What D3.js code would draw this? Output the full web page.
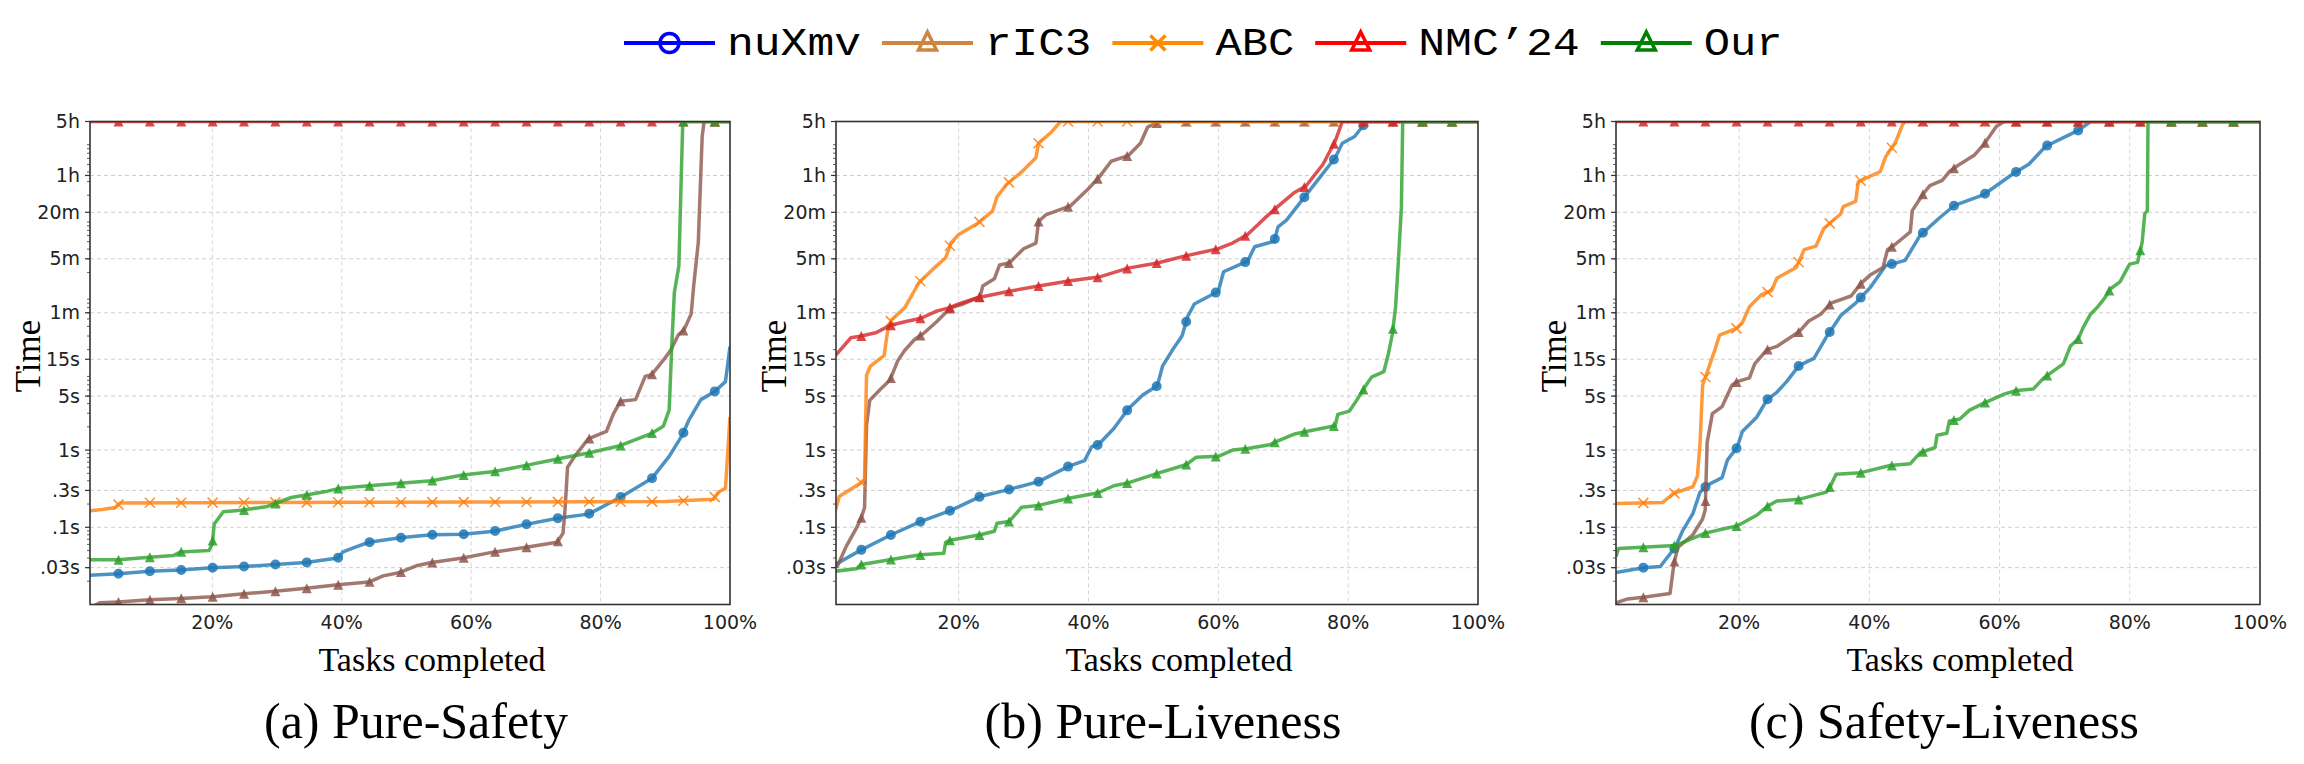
<!DOCTYPE html>
<html>
<head>
<meta charset="utf-8">
<script src="https://cdn.jsdelivr.net/npm/d3@7"></script>
<style>
  body { margin: 0; background: #fff; }
</style>
</head>
<body>
<svg id="chart" width="2304" height="764"></svg>
<script>
// ---- data: [percent of tasks completed, seconds] ----
var seriesNames = ["nuXmv", "rIC3", "ABC", "NMC\u201924", "Our"];
var pctTicks = [20, 40, 60, 80, 100];
var timeTicks = [18000, 3600, 1200, 300, 60, 15, 5, 1, 0.3, 0.1, 0.03];
var timeLabels = ["5h", "1h", "20m", "5m", "1m", "15s", "5s", "1s", ".3s", ".1s", ".03s"];
var captions = ["(a) Pure-Safety", "(b) Pure-Liveness", "(c) Safety-Liveness"];

// (a) Pure-Safety
var aNuxmv = [[1.1,0.024],[5.5,0.025],[10.3,0.027],[15.1,0.028],[20,0.030],[24.9,0.031],[29.7,0.033],[34.5,0.035],[39.4,0.040],[40.2,0.048],[42,0.055],[44.2,0.064],[49,0.073],[53.9,0.080],[58.7,0.081],[63.6,0.089],[68.5,0.109],[73.3,0.131],[78.1,0.148],[79.4,0.168],[83,0.243],[87.9,0.427],[90.6,0.83],[92.7,1.6],[93.6,2.4],[95.5,4.5],[97.6,5.7],[99.3,7.7],[100,22]];
var aRic3 = [[1.1,0.009],[2.6,0.0105],[5.5,0.0108],[10.3,0.0115],[15.1,0.012],[20,0.0126],[24.9,0.0138],[29.7,0.0148],[34.5,0.0162],[39.4,0.018],[44.2,0.0195],[46.4,0.0235],[49,0.026],[51.7,0.032],[53.9,0.035],[58.7,0.040],[63.6,0.048],[68.5,0.055],[73.3,0.064],[74.2,0.084],[74.5,0.168],[74.9,0.60],[76,0.83],[78.1,1.4],[80.9,1.74],[82,2.96],[83.1,4.3],[85.4,4.5],[86.9,9.0],[87.9,9.5],[89.7,14.6],[90.9,20],[92,31],[92.9,36],[94,58],[94.4,137],[95.1,490],[95.7,11500],[96,18000],[100,18000]];
var aAbc = [[1.1,0.164],[3,0.17],[5,0.18],[5.8,0.207],[30,0.21],[60,0.212],[90,0.215],[97.4,0.23],[98.2,0.285],[99.3,0.32],[100,2.7]];
var aNmc = [[1.1,18000],[100,18000]];
var aOur = [[1.1,0.038],[5.5,0.038],[10.3,0.041],[14,0.043],[15.1,0.048],[19.5,0.05],[20,0.061],[20.3,0.11],[21.7,0.159],[24.9,0.168],[28.5,0.186],[32.2,0.243],[34.5,0.262],[37.5,0.29],[39.4,0.317],[44.2,0.345],[49,0.372],[53.9,0.401],[58.7,0.475],[63.6,0.528],[68.5,0.633],[73.3,0.767],[78.1,0.918],[83,1.14],[87.9,1.65],[89.7,2.04],[90.6,3.3],[91,22],[91.4,110],[92.1,243],[92.7,18000],[100,18000]];

// (b) Pure-Liveness
var bNuxmv = [[1,0.033],[5,0.051],[9.6,0.080],[14.2,0.119],[18.7,0.164],[23.3,0.25],[27.8,0.31],[32.3,0.39],[37,0.62],[39.4,0.73],[40.5,1.11],[41.5,1.17],[43.9,1.9],[46.1,3.4],[48.4,5.2],[50.6,6.8],[51.4,12.2],[52.9,19.6],[54.4,30],[55.3,54],[56.3,78],[60,114],[60.8,204],[64.5,280],[65.6,430],[68.6,505],[69.2,780],[70.5,950],[73.5,2000],[75.4,3200],[78,6100],[79.1,9400],[81,11500],[82.8,18000],[100,18000]];
var bRic3 = [[1.2,0.03],[2.7,0.057],[4.2,0.096],[5,0.133],[5.5,0.18],[5.8,2.1],[6.3,4.4],[7.9,6.1],[9.4,8],[10.6,14.3],[11.7,19.6],[13.2,27],[14.7,33],[16.6,46],[18.8,70],[20.7,78],[23.3,97],[23.7,133],[25.5,165],[26.3,250],[27.8,265],[30,405],[31.9,480],[32.3,910],[33.4,1110],[37.2,1450],[40.1,2480],[41.6,3400],[43.5,5500],[46.1,6500],[48,9400],[49.1,15200],[51,18000],[100,18000]];
var bAbc = [[1,0.164],[1.6,0.25],[5,0.38],[5.5,0.42],[5.8,9.3],[6.4,12.2],[8.5,16.7],[9.1,37],[9.6,48],[11.7,70],[13.9,148],[16.2,227],[18,310],[18.8,480],[20,620],[22.9,860],[25.2,1240],[25.9,1900],[27.4,2770],[29.7,4000],[31.9,6100],[32.3,9400],[34.2,12900],[35.7,18000],[100,18000]];
var bNmc = [[1,16.7],[3.4,28.5],[5,30],[7.2,33],[9.4,41],[11.7,46],[14.2,51],[16.6,63],[18.6,70],[20,78],[22.9,94],[27.8,114],[32.3,133],[37.2,156],[41.6,174],[46.1,227],[50.6,265],[55.1,330],[60,405],[62.2,480],[64.5,620],[67.1,1000],[69,1390],[71.6,2130],[73.5,2630],[76.1,5000],[78,10000],[79.1,18000],[100,18000]];
var bOur = [[1,0.027],[4.2,0.029],[5,0.033],[11.7,0.041],[14.2,0.044],[17.7,0.046],[18,0.064],[18.7,0.068],[23.3,0.080],[25.5,0.089],[25.9,0.113],[27.8,0.119],[29.7,0.182],[32.3,0.192],[37,0.238],[41.5,0.28],[43.9,0.345],[46.1,0.376],[50.6,0.50],[55.1,0.65],[56.6,0.81],[60,0.83],[62.2,1.0],[64.5,1.05],[67.9,1.17],[69,1.3],[71.6,1.6],[73.5,1.74],[78,2.06],[78.4,2.9],[80.2,3.2],[81.3,4.4],[82.7,6.8],[83.6,8.8],[85.5,10.4],[86.2,17.7],[86.8,31.6],[87.3,71],[87.7,250],[88.2,1390],[88.4,18000],[100,18000]];

// (c) Safety-Liveness
var cNuxmv = [[1.1,0.026],[5.3,0.030],[7.9,0.031],[8.7,0.038],[10.2,0.055],[11.3,0.089],[12.9,0.15],[14,0.285],[15.1,0.35],[17.4,0.44],[18.2,0.74],[19.7,1.08],[20.5,1.74],[22.7,2.66],[24.3,4.5],[25.8,5.6],[27.3,7.7],[29.2,12.4],[31.5,15.4],[33.4,29],[35.6,55],[37.9,80],[40.2,129],[42.5,244],[45.5,286],[47.8,604],[50.8,1020],[53.1,1480],[57.6,2040],[62.2,3850],[64.5,5040],[67.1,8600],[72.1,13800],[74,18000],[100,18000]];
var cRic3 = [[1.1,0.0105],[2.9,0.0118],[5.3,0.0124],[9.4,0.0139],[10,0.034],[10.6,0.055],[12.9,0.08],[14.4,0.128],[14.8,0.168],[15.1,1.26],[15.9,2.96],[17.4,3.66],[18.9,6.9],[19.7,7.7],[21.6,8.6],[22.4,13.1],[24.3,20],[25.8,22],[29.2,34],[30.7,47],[32.6,58],[34.1,80],[37.2,99],[38.7,143],[40.2,187],[42.1,232],[42.8,394],[44,463],[46.3,670],[46.6,1260],[48.2,2040],[49.3,2660],[51.2,3120],[52.3,4050],[53.9,5040],[56.1,6560],[57.6,9100],[59.5,15500],[60.7,18000],[100,18000]];
var cAbc = [[1.1,0.203],[8.3,0.21],[9.8,0.27],[11.3,0.30],[12.9,0.335],[13.6,0.46],[14,1.2],[14.4,6.9],[16.3,20],[17,30.7],[19.7,38],[20.5,44.6],[21.6,72],[23.5,104],[25,116],[25.8,168],[28.8,232],[30,394],[31.8,437],[33,740],[35.6,1140],[36,1420],[37.9,1660],[38.3,2970],[41.7,4050],[42.5,6270],[44,9600],[45.1,16300],[45.5,18000],[100,18000]];
var cNmc = [[1.1,18000],[100,18000]];
var cOur = [[1.1,0.042],[1.5,0.053],[10.2,0.058],[14.8,0.084],[18.2,0.098],[19.7,0.104],[22.7,0.143],[24.3,0.186],[25.8,0.219],[29.2,0.23],[33.4,0.285],[34.1,0.35],[34.9,0.485],[38.7,0.51],[43.2,0.63],[46.3,0.667],[47.8,0.92],[50.1,1.08],[50.4,1.56],[51.9,1.65],[52.3,2.39],[53.9,2.52],[55.4,3.29],[57.6,4.06],[60.7,5.3],[62.6,5.9],[65.2,6.2],[66.8,8.6],[68.3,10.6],[69.8,13.1],[70.9,22.3],[72.1,27.6],[72.8,38],[74,58],[75.1,72],[76.2,94],[77,122],[78.5,151],[79.7,232],[80,256],[81.2,270],[81.9,490],[82.3,1140],[82.7,1260],[82.8,18000],[100,18000]];

// ---- styling ----
var lineColours = ["#1f77b4", "#8c564b", "#ff7f0e", "#d62728", "#2ca02c"];
var legendColours = ["#0000ff", "#cd853f", "#ff8c00", "#ff0000", "#008000"];
var markerKinds = ["circle", "triangle", "x", "triangle", "triangle"];

var plotTop = 121.5, plotBottom = 604.5;
var panels = [
    {left: 90,   right: 730,  markStart: 5.5, markStep: 4.85, lines: [aNuxmv, aRic3, aAbc, aNmc, aOur]},
    {left: 836,  right: 1478, markStart: 5.0, markStep: 4.55, lines: [bNuxmv, bRic3, bAbc, bNmc, bOur]},
    {left: 1616, right: 2260, markStart: 5.3, markStep: 4.77, lines: [cNuxmv, cRic3, cAbc, cNmc, cOur]}
];

var svg = d3.select("#chart");
svg.append("rect").attr("width", 2304).attr("height", 764).attr("fill", "#fff");

var y = d3.scaleLog().domain([0.01, 18000]).range([plotBottom, plotTop]);

function markerPath(kind, size) {
    if (kind === "circle") return d3.symbol(d3.symbolCircle, size * size * 0.785)();
    if (kind === "x") {
        var h = size / 2;
        return "M" + (-h) + "," + (-h) + "L" + h + "," + h + "M" + (-h) + "," + h + "L" + h + "," + (-h);
    }
    // upward triangle centred on its bounding box, like matplotlib '^'
    var w = size / 2;
    return "M0," + (-w) + "L" + w + "," + w + "L" + (-w) + "," + w + "Z";
}

panels.forEach(function(p, pi) {
    var x = d3.scaleLinear().domain([1.1, 100]).range([p.left, p.right]);
    var g = svg.append("g");

    var clipId = "clip" + pi;
    svg.append("clipPath").attr("id", clipId)
        .append("rect")
        .attr("x", p.left).attr("y", plotTop)
        .attr("width", p.right - p.left).attr("height", plotBottom - plotTop);

    // grid
    g.selectAll(".hgrid").data(timeTicks).enter().append("line")
        .attr("x1", p.left).attr("x2", p.right)
        .attr("y1", function(d) { return y(d); }).attr("y2", function(d) { return y(d); })
        .attr("stroke", "#cfcfcf").attr("stroke-width", 1).attr("stroke-dasharray", "4,3");
    g.selectAll(".vgrid").data(pctTicks.slice(0, 4)).enter().append("line")
        .attr("y1", plotTop).attr("y2", plotBottom)
        .attr("x1", function(d) { return x(d); }).attr("x2", function(d) { return x(d); })
        .attr("stroke", "#d6d6d6").attr("stroke-width", 1).attr("stroke-dasharray", "4,3");

    // series
    var lineGen = d3.line()
        .x(function(d) { return x(d[0]); })
        .y(function(d) { return y(d[1]); });

    var series = g.append("g").attr("clip-path", "url(#" + clipId + ")");
    p.lines.forEach(function(data, si) {
        series.append("path")
            .attr("d", lineGen(data))
            .attr("fill", "none")
            .attr("stroke", lineColours[si])
            .attr("stroke-opacity", 0.8)
            .attr("stroke-width", 3.5)
            .attr("stroke-linejoin", "round");

        // markers every few percent, sitting on the drawn line
        var marks = [];
        for (var m = p.markStart; m <= 100; m += p.markStep) {
            var k = 0;
            while (k < data.length - 2 && data[k + 1][0] < m) k++;
            var x0 = x(data[k][0]), x1 = x(data[k + 1][0]);
            var y0 = y(data[k][1]), y1 = y(data[k + 1][1]);
            var t = x1 === x0 ? 1 : Math.max(0, Math.min(1, (x(m) - x0) / (x1 - x0)));
            marks.push([x(m), y0 + t * (y1 - y0)]);
        }
        var kind = markerKinds[si];
        series.selectAll(null).data(marks).enter().append("path")
            .attr("transform", function(d) { return "translate(" + d[0] + "," + d[1] + ")"; })
            .attr("d", markerPath(kind, 10))
            .attr("fill", kind === "x" ? "none" : lineColours[si])
            .attr("fill-opacity", 0.85)
            .attr("stroke", lineColours[si])
            .attr("stroke-opacity", 0.85)
            .attr("stroke-width", kind === "x" ? 1.6 : 0);
    });

    // frame
    g.append("rect")
        .attr("x", p.left).attr("y", plotTop)
        .attr("width", p.right - p.left).attr("height", plotBottom - plotTop)
        .attr("fill", "none").attr("stroke", "#333").attr("stroke-width", 1.6);

    // y minor ticks
    var minor = [];
    for (var e = -2; e <= 4; e++) {
        for (var mk = 2; mk <= 9; mk++) {
            var v = mk * Math.pow(10, e);
            if (v < 18000) minor.push(v);
        }
    }
    g.selectAll(".minor").data(minor).enter().append("line")
        .attr("x1", p.left - 3).attr("x2", p.left)
        .attr("y1", function(d) { return y(d); }).attr("y2", function(d) { return y(d); })
        .attr("stroke", "#333").attr("stroke-width", 0.8);

    // y major ticks + labels
    g.selectAll(".major").data(timeTicks).enter().append("line")
        .attr("x1", p.left - 5).attr("x2", p.left)
        .attr("y1", function(d) { return y(d); }).attr("y2", function(d) { return y(d); })
        .attr("stroke", "#333").attr("stroke-width", 1.2);
    g.selectAll(".ylab").data(timeTicks).enter().append("text")
        .attr("x", p.left - 10)
        .attr("y", function(d) { return y(d); })
        .attr("dy", "0.35em")
        .attr("text-anchor", "end")
        .attr("font-family", "DejaVu Sans")
        .attr("font-size", 19)
        .attr("fill", "#222")
        .text(function(d, i) { return timeLabels[i]; });

    // x labels
    g.selectAll(".xlab").data(pctTicks).enter().append("text")
        .attr("x", function(d) { return x(d); })
        .attr("y", plotBottom + 24)
        .attr("text-anchor", "middle")
        .attr("font-family", "DejaVu Sans")
        .attr("font-size", 19)
        .attr("fill", "#222")
        .text(function(d) { return d + "%"; });

    var cx = (p.left + p.right) / 2;
    g.append("text")
        .attr("x", cx + 22).attr("y", 671)
        .attr("text-anchor", "middle")
        .attr("font-family", "Liberation Serif")
        .attr("font-size", 34)
        .text("Tasks completed");

    g.append("text")
        .attr("transform", "translate(" + (p.left - 50) + ",356) rotate(-90)")
        .attr("text-anchor", "middle")
        .attr("font-family", "Liberation Serif")
        .attr("font-size", 35)
        .text("Time");

    g.append("text")
        .attr("x", cx + 6).attr("y", 738)
        .attr("text-anchor", "middle")
        .attr("font-family", "Liberation Serif")
        .attr("font-size", 50)
        .text(captions[pi]);
});

// ---- legend ----
var legend = svg.append("g");
var lx = 624, ly = 43, handle = 91, charW = 27.6;
seriesNames.forEach(function(name, i) {
    legend.append("line")
        .attr("x1", lx).attr("x2", lx + handle)
        .attr("y1", ly).attr("y2", ly)
        .attr("stroke", legendColours[i]).attr("stroke-width", 4);
    var kind = markerKinds[i];
    legend.append("path")
        .attr("transform", "translate(" + (lx + handle / 2) + "," + (kind === "triangle" ? ly - 2 : ly) + ")")
        .attr("d", markerPath(kind, kind === "circle" ? 19 : (kind === "x" ? 15 : 18)))
        .attr("fill", "none")
        .attr("stroke", legendColours[i])
        .attr("stroke-width", 3.5);
    var tx = lx + handle + 12;
    var tw = name.length * charW;
    legend.append("text")
        .attr("x", tx).attr("y", 55)
        .attr("font-family", "Liberation Mono")
        .attr("font-size", 38)
        .attr("textLength", tw - 4)
        .attr("lengthAdjust", "spacingAndGlyphs")
        .attr("fill", "#000")
        .text(name);
    lx = tx + tw + 17;
});
</script>
</body>
</html>
